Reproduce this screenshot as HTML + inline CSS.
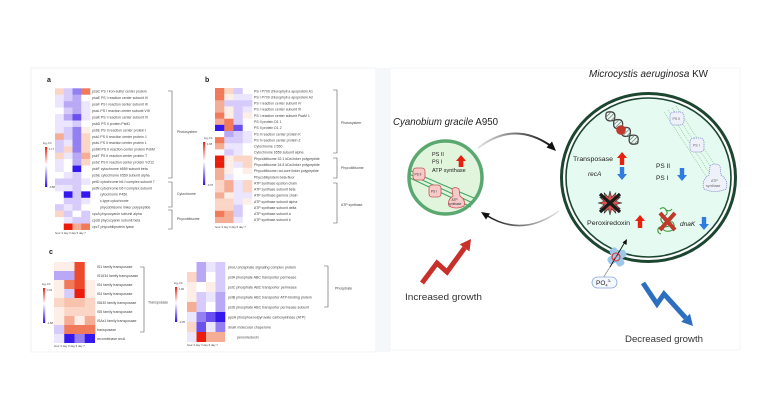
<!DOCTYPE html>
<html><head><meta charset="utf-8"><style>
html,body{margin:0;padding:0;background:#fff;}
svg{display:block;}
text{font-family:"Liberation Sans",sans-serif;}
</style></head><body>
<svg width="771" height="420" viewBox="0 0 771 420" xmlns="http://www.w3.org/2000/svg">
<defs>
<linearGradient id="cb" x1="0" y1="0" x2="0" y2="1">
<stop offset="0" stop-color="#ee2010"/><stop offset="0.45" stop-color="#ffffff"/><stop offset="1" stop-color="#3010ee"/>
</linearGradient>
<linearGradient id="arcT" x1="0" y1="0" x2="1" y2="0">
<stop offset="0" stop-color="#e6e6e6"/><stop offset="1" stop-color="#111"/>
</linearGradient>
<linearGradient id="arcB" x1="1" y1="0" x2="0" y2="0">
<stop offset="0" stop-color="#e6e6e6"/><stop offset="1" stop-color="#111"/>
</linearGradient>
</defs>
<rect width="771" height="420" fill="#fff"/>
<!-- panels -->
<rect x="31" y="68" width="345" height="284" fill="#fff" stroke="#eef1f6" stroke-width="1"/>
<rect x="376" y="68" width="14" height="284" fill="#f5f7fb"/>
<rect x="390" y="68" width="350" height="282" fill="#fff" stroke="#f1f3f7" stroke-width="0.8"/>

<!-- panel letters -->
<text x="47" y="82" font-size="7" font-weight="bold" fill="#222">a</text>
<text x="205" y="82" font-size="7" font-weight="bold" fill="#222">b</text>
<text x="49" y="254" font-size="7" font-weight="bold" fill="#222">c</text>

<!-- Heatmap a -->
<g transform="translate(55,88.3) scale(8.75,6.44)">
<rect x="0" y="0" width="1.03" height="1.03" fill="#fbd6c6"/><rect x="1" y="0" width="1.03" height="1.03" fill="#d6cbfa"/><rect x="2" y="0" width="1.03" height="1.03" fill="#9580f2"/><rect x="3" y="0" width="1.03" height="1.03" fill="#f07a5a"/>
<rect x="0" y="1" width="1.03" height="1.03" fill="#ebe6fd"/><rect x="1" y="1" width="1.03" height="1.03" fill="#d6cbfa"/><rect x="2" y="1" width="1.03" height="1.03" fill="#b8a8f6"/><rect x="3" y="1" width="1.03" height="1.03" fill="#ffffff"/>
<rect x="0" y="2" width="1.03" height="1.03" fill="#ebe6fd"/><rect x="1" y="2" width="1.03" height="1.03" fill="#b8a8f6"/><rect x="2" y="2" width="1.03" height="1.03" fill="#b8a8f6"/><rect x="3" y="2" width="1.03" height="1.03" fill="#ebe6fd"/>
<rect x="0" y="3" width="1.03" height="1.03" fill="#ffffff"/><rect x="1" y="3" width="1.03" height="1.03" fill="#d6cbfa"/><rect x="2" y="3" width="1.03" height="1.03" fill="#b8a8f6"/><rect x="3" y="3" width="1.03" height="1.03" fill="#ebe6fd"/>
<rect x="0" y="4" width="1.03" height="1.03" fill="#ebe6fd"/><rect x="1" y="4" width="1.03" height="1.03" fill="#b8a8f6"/><rect x="2" y="4" width="1.03" height="1.03" fill="#6a50ee"/><rect x="3" y="4" width="1.03" height="1.03" fill="#ebe6fd"/>
<rect x="0" y="5" width="1.03" height="1.03" fill="#ebe6fd"/><rect x="1" y="5" width="1.03" height="1.03" fill="#ebe6fd"/><rect x="2" y="5" width="1.03" height="1.03" fill="#d6cbfa"/><rect x="3" y="5" width="1.03" height="1.03" fill="#ffffff"/>
<rect x="0" y="6" width="1.03" height="1.03" fill="#ebe6fd"/><rect x="1" y="6" width="1.03" height="1.03" fill="#d6cbfa"/><rect x="2" y="6" width="1.03" height="1.03" fill="#9580f2"/><rect x="3" y="6" width="1.03" height="1.03" fill="#fdeee8"/>
<rect x="0" y="7" width="1.03" height="1.03" fill="#f6ad95"/><rect x="1" y="7" width="1.03" height="1.03" fill="#d6cbfa"/><rect x="2" y="7" width="1.03" height="1.03" fill="#9580f2"/><rect x="3" y="7" width="1.03" height="1.03" fill="#fbd6c6"/>
<rect x="0" y="8" width="1.03" height="1.03" fill="#d6cbfa"/><rect x="1" y="8" width="1.03" height="1.03" fill="#ebe6fd"/><rect x="2" y="8" width="1.03" height="1.03" fill="#9580f2"/><rect x="3" y="8" width="1.03" height="1.03" fill="#fbd6c6"/>
<rect x="0" y="9" width="1.03" height="1.03" fill="#d6cbfa"/><rect x="1" y="9" width="1.03" height="1.03" fill="#fbd6c6"/><rect x="2" y="9" width="1.03" height="1.03" fill="#9580f2"/><rect x="3" y="9" width="1.03" height="1.03" fill="#fbd6c6"/>
<rect x="0" y="10" width="1.03" height="1.03" fill="#fbd6c6"/><rect x="1" y="10" width="1.03" height="1.03" fill="#ebe6fd"/><rect x="2" y="10" width="1.03" height="1.03" fill="#b8a8f6"/><rect x="3" y="10" width="1.03" height="1.03" fill="#f6ad95"/>
<rect x="0" y="11" width="1.03" height="1.03" fill="#ebe6fd"/><rect x="1" y="11" width="1.03" height="1.03" fill="#ffffff"/><rect x="2" y="11" width="1.03" height="1.03" fill="#b8a8f6"/><rect x="3" y="11" width="1.03" height="1.03" fill="#fbd6c6"/>
<rect x="0" y="12" width="1.03" height="1.03" fill="#ebe6fd"/><rect x="1" y="12" width="1.03" height="1.03" fill="#ffffff"/><rect x="2" y="12" width="1.03" height="1.03" fill="#3418ee"/><rect x="3" y="12" width="1.03" height="1.03" fill="#ffffff"/>
<rect x="0" y="13" width="1.03" height="1.03" fill="#ffffff"/><rect x="1" y="13" width="1.03" height="1.03" fill="#ebe6fd"/><rect x="2" y="13" width="1.03" height="1.03" fill="#d6cbfa"/><rect x="3" y="13" width="1.03" height="1.03" fill="#ffffff"/>
<rect x="0" y="14" width="1.03" height="1.03" fill="#d6cbfa"/><rect x="1" y="14" width="1.03" height="1.03" fill="#d6cbfa"/><rect x="2" y="14" width="1.03" height="1.03" fill="#d6cbfa"/><rect x="3" y="14" width="1.03" height="1.03" fill="#ebe6fd"/>
<rect x="0" y="15" width="1.03" height="1.03" fill="#ebe6fd"/><rect x="1" y="15" width="1.03" height="1.03" fill="#ebe6fd"/><rect x="2" y="15" width="1.03" height="1.03" fill="#d6cbfa"/><rect x="3" y="15" width="1.03" height="1.03" fill="#ffffff"/>
<rect x="0" y="16" width="1.03" height="1.03" fill="#ffffff"/><rect x="1" y="16" width="1.03" height="1.03" fill="#3418ee"/><rect x="2" y="16" width="1.03" height="1.03" fill="#d6cbfa"/><rect x="3" y="16" width="1.03" height="1.03" fill="#3418ee"/>
<rect x="0" y="17" width="1.03" height="1.03" fill="#ffffff"/><rect x="1" y="17" width="1.03" height="1.03" fill="#d6cbfa"/><rect x="2" y="17" width="1.03" height="1.03" fill="#d6cbfa"/><rect x="3" y="17" width="1.03" height="1.03" fill="#ebe6fd"/>
<rect x="0" y="18" width="1.03" height="1.03" fill="#d6cbfa"/><rect x="1" y="18" width="1.03" height="1.03" fill="#ebe6fd"/><rect x="2" y="18" width="1.03" height="1.03" fill="#d6cbfa"/><rect x="3" y="18" width="1.03" height="1.03" fill="#ffffff"/>
<rect x="0" y="19" width="1.03" height="1.03" fill="#fbd6c6"/><rect x="1" y="19" width="1.03" height="1.03" fill="#d6cbfa"/><rect x="2" y="19" width="1.03" height="1.03" fill="#ffffff"/><rect x="3" y="19" width="1.03" height="1.03" fill="#d6cbfa"/>
<rect x="0" y="20" width="1.03" height="1.03" fill="#ffffff"/><rect x="1" y="20" width="1.03" height="1.03" fill="#ebe6fd"/><rect x="2" y="20" width="1.03" height="1.03" fill="#d6cbfa"/><rect x="3" y="20" width="1.03" height="1.03" fill="#d6cbfa"/>
<rect x="0" y="21" width="1.03" height="1" fill="#ffffff"/><rect x="1" y="21" width="1.03" height="1" fill="#ec1c0c"/><rect x="2" y="21" width="1.03" height="1" fill="#f6ad95"/><rect x="3" y="21" width="1" height="1" fill="#f07a5a"/>
</g>
<g font-size="3.5" fill="#444">
<text x="92" y="92.7">psaC PS I iron-sulfur center protein</text>
<text x="92" y="99.1">psaE PS I reaction center subunit IV</text>
<text x="92" y="105.6">psaF PS I reaction center subunit III</text>
<text x="92" y="112">psaL PS I reaction center subunit VIII</text>
<text x="92" y="118.5">psaK PS I reaction center subunit XI</text>
<text x="92" y="124.9">psbD PS II protein PsbD</text>
<text x="92" y="131.3">psbE PS II reaction center protein I</text>
<text x="92" y="137.8">psbJ PS II reaction center protein J</text>
<text x="92" y="144.2">psbL PS II reaction center protein L</text>
<text x="92" y="150.7">psbM PS II reaction center protein PsbM</text>
<text x="92" y="157.1">psbT PS II reaction center protein T</text>
<text x="92" y="163.5">psbZ PS II reaction center protein Ycf12</text>
<text x="92" y="170">psbF cytochrome b559 subunit beta</text>
<text x="92" y="176.4">psbE cytochrome b559 subunit alpha</text>
<text x="92" y="182.9">petD cytochrome b6-f complex subunit 7</text>
<text x="92" y="189.3">petN cytochrome b6-f complex subunit</text>
<text x="100" y="195.7">cytochrome P450</text>
<text x="100" y="202.2">c-type cytochrome</text>
<text x="100" y="208.6">phycobilisome linker polypeptide</text>
<text x="92" y="215.1">cpcA phycocyanin subunit alpha</text>
<text x="92" y="221.5">cpcB phycocyanin subunit beta</text>
<text x="92" y="227.9">cpcT phycobiliprotein lyase</text>
<text x="177" y="133">Photosystem</text>
<text x="177" y="195">Cytochrome</text>
<text x="177" y="220">Phycobilisome</text>
</g>
<g fill="none" stroke="#555" stroke-width="0.6">
<path d="M168,91 H172 V178 H168"/>
<path d="M168,182 H172 V207 H168"/>
<path d="M168,210 H172 V229 H168"/>
</g>
<text x="55" y="234" font-size="2.8" fill="#444">hour 3 day 3 day 5 day 7</text>
<rect x="45" y="147" width="2.2" height="40" fill="url(#cb)"/>
<g font-size="2.6" fill="#444"><text x="43" y="144">log₂ FC</text><text x="49" y="150">1.17</text><text x="49" y="188">-0.88</text></g>

<!-- Heatmap b -->
<g transform="translate(215,88) scale(9.25,6.14)">
<rect x="0" y="0" width="1.03" height="1.03" fill="#f07a5a"/><rect x="1" y="0" width="1.03" height="1.03" fill="#fbd6c6"/><rect x="2" y="0" width="1.03" height="1.03" fill="#d6cbfa"/><rect x="3" y="0" width="1.03" height="1.03" fill="#ffffff"/>
<rect x="0" y="1" width="1.03" height="1.03" fill="#f07a5a"/><rect x="1" y="1" width="1.03" height="1.03" fill="#fdeee8"/><rect x="2" y="1" width="1.03" height="1.03" fill="#ebe6fd"/><rect x="3" y="1" width="1.03" height="1.03" fill="#ebe6fd"/>
<rect x="0" y="2" width="1.03" height="1.03" fill="#f6ad95"/><rect x="1" y="2" width="1.03" height="1.03" fill="#d6cbfa"/><rect x="2" y="2" width="1.03" height="1.03" fill="#d6cbfa"/><rect x="3" y="2" width="1.03" height="1.03" fill="#d6cbfa"/>
<rect x="0" y="3" width="1.03" height="1.03" fill="#f6ad95"/><rect x="1" y="3" width="1.03" height="1.03" fill="#fdeee8"/><rect x="2" y="3" width="1.03" height="1.03" fill="#d6cbfa"/><rect x="3" y="3" width="1.03" height="1.03" fill="#ebe6fd"/>
<rect x="0" y="4" width="1.03" height="1.03" fill="#f07a5a"/><rect x="1" y="4" width="1.03" height="1.03" fill="#fdeee8"/><rect x="2" y="4" width="1.03" height="1.03" fill="#d6cbfa"/><rect x="3" y="4" width="1.03" height="1.03" fill="#fdeee8"/>
<rect x="0" y="5" width="1.03" height="1.03" fill="#f6ad95"/><rect x="1" y="5" width="1.03" height="1.03" fill="#f07a5a"/><rect x="2" y="5" width="1.03" height="1.03" fill="#d6cbfa"/><rect x="3" y="5" width="1.03" height="1.03" fill="#ffffff"/>
<rect x="0" y="6" width="1.03" height="1.03" fill="#3418ee"/><rect x="1" y="6" width="1.03" height="1.03" fill="#f07a5a"/><rect x="2" y="6" width="1.03" height="1.03" fill="#6a50ee"/><rect x="3" y="6" width="1.03" height="1.03" fill="#ffffff"/>
<rect x="0" y="7" width="1.03" height="1.03" fill="#ffffff"/><rect x="1" y="7" width="1.03" height="1.03" fill="#b8a8f6"/><rect x="2" y="7" width="1.03" height="1.03" fill="#d6cbfa"/><rect x="3" y="7" width="1.03" height="1.03" fill="#ebe6fd"/>
<rect x="0" y="8" width="1.03" height="1.03" fill="#f07a5a"/><rect x="1" y="8" width="1.03" height="1.03" fill="#d6cbfa"/><rect x="2" y="8" width="1.03" height="1.03" fill="#d6cbfa"/><rect x="3" y="8" width="1.03" height="1.03" fill="#ebe6fd"/>
<rect x="0" y="9" width="1.03" height="1.03" fill="#f6ad95"/><rect x="1" y="9" width="1.03" height="1.03" fill="#ebe6fd"/><rect x="2" y="9" width="1.03" height="1.03" fill="#ebe6fd"/><rect x="3" y="9" width="1.03" height="1.03" fill="#ffffff"/>
<rect x="0" y="10" width="1.03" height="1.03" fill="#ffffff"/><rect x="1" y="10" width="1.03" height="1.03" fill="#d6cbfa"/><rect x="2" y="10" width="1.03" height="1.03" fill="#ebe6fd"/><rect x="3" y="10" width="1.03" height="1.03" fill="#ffffff"/>
<rect x="0" y="11" width="1.03" height="1.03" fill="#ec1c0c"/><rect x="1" y="11" width="1.03" height="1.03" fill="#fdeee8"/><rect x="2" y="11" width="1.03" height="1.03" fill="#fbd6c6"/><rect x="3" y="11" width="1.03" height="1.03" fill="#fbd6c6"/>
<rect x="0" y="12" width="1.03" height="1.03" fill="#ec1c0c"/><rect x="1" y="12" width="1.03" height="1.03" fill="#fdeee8"/><rect x="2" y="12" width="1.03" height="1.03" fill="#ebe6fd"/><rect x="3" y="12" width="1.03" height="1.03" fill="#fbd6c6"/>
<rect x="0" y="13" width="1.03" height="1.03" fill="#f6ad95"/><rect x="1" y="13" width="1.03" height="1.03" fill="#fdeee8"/><rect x="2" y="13" width="1.03" height="1.03" fill="#ffffff"/><rect x="3" y="13" width="1.03" height="1.03" fill="#fdeee8"/>
<rect x="0" y="14" width="1.03" height="1.03" fill="#f6ad95"/><rect x="1" y="14" width="1.03" height="1.03" fill="#ebe6fd"/><rect x="2" y="14" width="1.03" height="1.03" fill="#ffffff"/><rect x="3" y="14" width="1.03" height="1.03" fill="#ffffff"/>
<rect x="0" y="15" width="1.03" height="1.03" fill="#fbd6c6"/><rect x="1" y="15" width="1.03" height="1.03" fill="#f6ad95"/><rect x="2" y="15" width="1.03" height="1.03" fill="#ebe6fd"/><rect x="3" y="15" width="1.03" height="1.03" fill="#fbd6c6"/>
<rect x="0" y="16" width="1.03" height="1.03" fill="#fbd6c6"/><rect x="1" y="16" width="1.03" height="1.03" fill="#f6ad95"/><rect x="2" y="16" width="1.03" height="1.03" fill="#ebe6fd"/><rect x="3" y="16" width="1.03" height="1.03" fill="#fbd6c6"/>
<rect x="0" y="17" width="1.03" height="1.03" fill="#f6ad95"/><rect x="1" y="17" width="1.03" height="1.03" fill="#fdeee8"/><rect x="2" y="17" width="1.03" height="1.03" fill="#ebe6fd"/><rect x="3" y="17" width="1.03" height="1.03" fill="#ebe6fd"/>
<rect x="0" y="18" width="1.03" height="1.03" fill="#fbd6c6"/><rect x="1" y="18" width="1.03" height="1.03" fill="#fbd6c6"/><rect x="2" y="18" width="1.03" height="1.03" fill="#ebe6fd"/><rect x="3" y="18" width="1.03" height="1.03" fill="#fdeee8"/>
<rect x="0" y="19" width="1.03" height="1.03" fill="#fbd6c6"/><rect x="1" y="19" width="1.03" height="1.03" fill="#fbd6c6"/><rect x="2" y="19" width="1.03" height="1.03" fill="#d6cbfa"/><rect x="3" y="19" width="1.03" height="1.03" fill="#ffffff"/>
<rect x="0" y="20" width="1.03" height="1.03" fill="#f07a5a"/><rect x="1" y="20" width="1.03" height="1.03" fill="#f6ad95"/><rect x="2" y="20" width="1.03" height="1.03" fill="#d6cbfa"/><rect x="3" y="20" width="1.03" height="1.03" fill="#ffffff"/>
<rect x="0" y="21" width="1.03" height="1" fill="#f6ad95"/><rect x="1" y="21" width="1.03" height="1" fill="#f6ad95"/><rect x="2" y="21" width="1.03" height="1" fill="#ebe6fd"/><rect x="3" y="21" width="1" height="1" fill="#ffffff"/>
</g>
<g font-size="3.5" fill="#444">
<text x="254" y="92.3">PS I P700 chlorophyll a apoprotein A1</text>
<text x="254" y="98.4">PS I P700 chlorophyll a apoprotein A2</text>
<text x="254" y="104.6">PS I reaction center subunit IV</text>
<text x="254" y="110.7">PS I reaction center subunit XI</text>
<text x="254" y="116.9">PS I reaction center subunit PsaM 1</text>
<text x="254" y="123">PS II protein D1 1</text>
<text x="254" y="129.1">PS II protein D1 2</text>
<text x="254" y="135.3">PS II reaction center protein K</text>
<text x="254" y="141.4">PS II reaction center protein Z</text>
<text x="254" y="147.6">Cytochrome c 550</text>
<text x="254" y="153.7">Cytochrome b559 subunit alpha</text>
<text x="254" y="159.8">Phycobilisome 32.1 kDa linker polypeptide</text>
<text x="254" y="166">Phycobilisome 34.8 kDa linker polypeptide</text>
<text x="254" y="172.1">Phycobilisome rod-core linker polypeptide</text>
<text x="254" y="178.3">Phycobiliprotein beta-fluor</text>
<text x="254" y="184.4">ATP synthase epsilon chain</text>
<text x="254" y="190.5">ATP synthase subunit beta</text>
<text x="254" y="196.7">ATP synthase gamma chain</text>
<text x="254" y="202.8">ATP synthase subunit alpha</text>
<text x="254" y="209">ATP synthase subunit delta</text>
<text x="254" y="215.1">ATP synthase subunit a</text>
<text x="254" y="221.2">ATP synthase subunit b</text>
<text x="341" y="124">Photosystem</text>
<text x="341" y="169">Phycobilisome</text>
<text x="341" y="206">ATP synthase</text>
</g>
<g fill="none" stroke="#555" stroke-width="0.6">
<path d="M333,90 H337 V153 H333"/>
<path d="M333,158 H337 V178 H333"/>
<path d="M333,183 H337 V223 H333"/>
</g>
<text x="215" y="228" font-size="2.8" fill="#444">hour 3 day 3 day 5 day 7</text>
<rect x="203" y="142" width="2.2" height="43" fill="url(#cb)"/>
<g font-size="2.6" fill="#444"><text x="204" y="139">log₂ FC</text><text x="207" y="145">1.68</text><text x="207" y="186">-0.78</text></g>

<!-- Heatmap c transposase -->
<g transform="translate(54,262) scale(10.25,9)">
<rect x="0" y="0" width="1.03" height="1.03" fill="#fdeee8"/><rect x="1" y="0" width="1.03" height="1.03" fill="#fdeee8"/><rect x="2" y="0" width="1.03" height="1.03" fill="#ee4a2c"/><rect x="3" y="0" width="1.03" height="1.03" fill="#ffffff"/>
<rect x="0" y="1" width="1.03" height="1.03" fill="#b8a8f6"/><rect x="1" y="1" width="1.03" height="1.03" fill="#b8a8f6"/><rect x="2" y="1" width="1.03" height="1.03" fill="#ee4a2c"/><rect x="3" y="1" width="1.03" height="1.03" fill="#ffffff"/>
<rect x="0" y="2" width="1.03" height="1.03" fill="#fdeee8"/><rect x="1" y="2" width="1.03" height="1.03" fill="#f07a5a"/><rect x="2" y="2" width="1.03" height="1.03" fill="#ee4a2c"/><rect x="3" y="2" width="1.03" height="1.03" fill="#fdeee8"/>
<rect x="0" y="3" width="1.03" height="1.03" fill="#fdeee8"/><rect x="1" y="3" width="1.03" height="1.03" fill="#d6cbfa"/><rect x="2" y="3" width="1.03" height="1.03" fill="#ec1c0c"/><rect x="3" y="3" width="1.03" height="1.03" fill="#fdeee8"/>
<rect x="0" y="4" width="1.03" height="1.03" fill="#fbd6c6"/><rect x="1" y="4" width="1.03" height="1.03" fill="#f8c2ac"/><rect x="2" y="4" width="1.03" height="1.03" fill="#f8c2ac"/><rect x="3" y="4" width="1.03" height="1.03" fill="#fbd6c6"/>
<rect x="0" y="5" width="1.03" height="1.03" fill="#fdeee8"/><rect x="1" y="5" width="1.03" height="1.03" fill="#fbd6c6"/><rect x="2" y="5" width="1.03" height="1.03" fill="#fbd6c6"/><rect x="3" y="5" width="1.03" height="1.03" fill="#fbd6c6"/>
<rect x="0" y="6" width="1.03" height="1.03" fill="#fdeee8"/><rect x="1" y="6" width="1.03" height="1.03" fill="#f6ad95"/><rect x="2" y="6" width="1.03" height="1.03" fill="#fdeee8"/><rect x="3" y="6" width="1.03" height="1.03" fill="#f6ad95"/>
<rect x="0" y="7" width="1.03" height="1.03" fill="#d6cbfa"/><rect x="1" y="7" width="1.03" height="1.03" fill="#f07a5a"/><rect x="2" y="7" width="1.03" height="1.03" fill="#f07a5a"/><rect x="3" y="7" width="1.03" height="1.03" fill="#f07a5a"/>
<rect x="0" y="8" width="1.03" height="1" fill="#ebe6fd"/><rect x="1" y="8" width="1.03" height="1" fill="#3418ee"/><rect x="2" y="8" width="1.03" height="1" fill="#9580f2"/><rect x="3" y="8" width="1" height="1" fill="#3418ee"/>
</g>
<g font-size="3.5" fill="#444">
<text x="97" y="267.8">IS1 family transposase</text>
<text x="97" y="276.8">IS1634 family transposase</text>
<text x="97" y="285.8">IS4 family transposase</text>
<text x="97" y="294.8">IS4 family transposase</text>
<text x="97" y="303.8">IS630 family transposase</text>
<text x="97" y="312.8">IS5 family transposase</text>
<text x="97" y="321.8">ISAs1 family transposase</text>
<text x="97" y="330.8">transposase</text>
<text x="97" y="339.8">recombinase recA</text>
<text x="148" y="303.5">Transposase</text>
</g>
<path d="M140,267 H144 V332 H140" fill="none" stroke="#555" stroke-width="0.6"/>
<text x="54" y="347" font-size="2.8" fill="#444">hour 3 day 3 day 5 day 7</text>
<rect x="43" y="288" width="2.2" height="35" fill="url(#cb)"/>
<g font-size="2.6" fill="#444"><text x="42" y="285">log₂ FC</text><text x="47" y="291">4.02</text><text x="47" y="324">-1.58</text></g>

<!-- Heatmap phosphate -->
<g transform="translate(187,262) scale(9.5,10)">
<rect x="0" y="0" width="1.03" height="1.03" fill="#ffffff"/><rect x="1" y="0" width="1.03" height="1.03" fill="#b8a8f6"/><rect x="2" y="0" width="1.03" height="1.03" fill="#ebe6fd"/><rect x="3" y="0" width="1.03" height="1.03" fill="#d6cbfa"/>
<rect x="0" y="1" width="1.03" height="1.03" fill="#fbd6c6"/><rect x="1" y="1" width="1.03" height="1.03" fill="#b8a8f6"/><rect x="2" y="1" width="1.03" height="1.03" fill="#ffffff"/><rect x="3" y="1" width="1.03" height="1.03" fill="#d6cbfa"/>
<rect x="0" y="2" width="1.03" height="1.03" fill="#fdeee8"/><rect x="1" y="2" width="1.03" height="1.03" fill="#ffffff"/><rect x="2" y="2" width="1.03" height="1.03" fill="#fdeee8"/><rect x="3" y="2" width="1.03" height="1.03" fill="#d6cbfa"/>
<rect x="0" y="3" width="1.03" height="1.03" fill="#fdeee8"/><rect x="1" y="3" width="1.03" height="1.03" fill="#d6cbfa"/><rect x="2" y="3" width="1.03" height="1.03" fill="#ebe6fd"/><rect x="3" y="3" width="1.03" height="1.03" fill="#b8a8f6"/>
<rect x="0" y="4" width="1.03" height="1.03" fill="#f6ad95"/><rect x="1" y="4" width="1.03" height="1.03" fill="#d6cbfa"/><rect x="2" y="4" width="1.03" height="1.03" fill="#ffffff"/><rect x="3" y="4" width="1.03" height="1.03" fill="#b8a8f6"/>
<rect x="0" y="5" width="1.03" height="1.03" fill="#ebe6fd"/><rect x="1" y="5" width="1.03" height="1.03" fill="#9580f2"/><rect x="2" y="5" width="1.03" height="1.03" fill="#6a50ee"/><rect x="3" y="5" width="1.03" height="1.03" fill="#3418ee"/>
<rect x="0" y="6" width="1.03" height="1.03" fill="#fbd6c6"/><rect x="1" y="6" width="1.03" height="1.03" fill="#6a50ee"/><rect x="2" y="6" width="1.03" height="1.03" fill="#ebe6fd"/><rect x="3" y="6" width="1.03" height="1.03" fill="#9580f2"/>
<rect x="0" y="7" width="1.03" height="1" fill="#ebe6fd"/><rect x="1" y="7" width="1.03" height="1" fill="#ec1c0c"/><rect x="2" y="7" width="1.03" height="1" fill="#f6ad95"/><rect x="3" y="7" width="1" height="1" fill="#f6ad95"/>
</g>
<g font-size="3.6" fill="#444">
<text x="228" y="268.3">phoU phosphate signaling complex protein</text>
<text x="228" y="278.3">pstA phosphate ABC transporter permease</text>
<text x="228" y="288.3">pstC phosphate ABC transporter permease</text>
<text x="228" y="298.3">pstB phosphate ABC transporter ATP-binding protein</text>
<text x="228" y="308.3">pstS phosphate ABC transporter permease subunit</text>
<text x="228" y="318.3">ppsA phosphoenolpyruvate carboxykinase (ATP)</text>
<text x="228" y="328.3">dnaK molecular chaperone</text>
<text x="237" y="338.3">peroxiredoxin</text>
<text x="335" y="289.5">Phosphate</text>
</g>
<path d="M324,266 H328 V307 H324" fill="none" stroke="#555" stroke-width="0.6"/>
<text x="187" y="346" font-size="2.8" fill="#444">hour 3 day 3 day 5 day 7</text>
<rect x="175" y="287" width="2.2" height="35" fill="url(#cb)"/>
<g font-size="2.6" fill="#444"><text x="174" y="284">log₂ FC</text><text x="179" y="290">1.80</text><text x="179" y="323">-0.35</text></g>

<!-- ===== Right diagram ===== -->
<text x="393" y="125" font-size="10.5" fill="#222" textLength="105" lengthAdjust="spacingAndGlyphs"><tspan font-style="italic">Cyanobium gracile</tspan> A950</text>
<text x="589" y="77" font-size="10.5" fill="#222" textLength="119" lengthAdjust="spacingAndGlyphs"><tspan font-style="italic">Microcystis aeruginosa</tspan> KW</text>

<!-- small cell -->
<circle cx="445.5" cy="177.5" r="36.5" fill="#e0f5dc" stroke="#5aa870" stroke-width="3.5"/>
<g fill="none" stroke="#46a566" stroke-width="1.2">
<path d="M409,170 Q440,184 474,198"/>
<path d="M409,174 Q440,188 473,203"/>
<path d="M410,178 Q440,192 471,207"/>
</g>
<g fill="#f7c9c9" stroke="#c85555" stroke-width="0.8">
<rect x="413" y="168" width="12" height="12" rx="3"/>
<rect x="429" y="185" width="12" height="12" rx="3"/>
<path d="M452,189 Q455,186 459,189 L460,196 Q466,200 464,206 Q456,210 449,206 Q447,200 453,196 Z"/>
</g>
<g font-size="3.2" fill="#333">
<text x="414.5" y="175.3">PS II</text>
<text x="431" y="192.3">PS I</text>
<text x="451.5" y="201">ATP</text>
<text x="448.5" y="205">synthase</text>
</g>
<g font-size="5.5" fill="#222">
<text x="432" y="156">PS II</text>
<text x="432" y="163.5">PS I</text>
<text x="432" y="172">ATP synthase</text>
</g>
<path d="M461,155 L466,161 L463.3,161 L463.3,167 L458.7,167 L458.7,161 L456,161 Z" fill="#e8210f"/>

<!-- arcs -->
<path d="M478,148 Q514,120 551,146" fill="none" stroke="url(#arcT)" stroke-width="2"/>
<path d="M556,151 L546.5,147.5 L552,141.5 Z" fill="#111"/>
<path d="M559,211 Q522,238 486,215" fill="none" stroke="url(#arcB)" stroke-width="1.6"/>
<path d="M481,212 L490,213.5 L486,219.5 Z" fill="#111"/>

<!-- red growth arrow -->
<polyline points="422,283 437,263 447,272 464.6,247.9" fill="none" stroke="#c8302a" stroke-width="5" stroke-linejoin="miter"/>
<polygon points="471,239 469.5,251.4 459.7,244.4" fill="#c8302a"/>
<text x="405" y="300" font-size="9.5" fill="#333" textLength="77" lengthAdjust="spacingAndGlyphs">Increased growth</text>

<!-- big cell -->
<ellipse cx="648.5" cy="177.5" rx="87" ry="84" fill="#fff" stroke="#1d4630" stroke-width="3"/>
<ellipse cx="648.5" cy="177.5" rx="82.5" ry="79.5" fill="#e5faf0" stroke="#1d4630" stroke-width="1.6"/>

<!-- DNA -->
<g transform="translate(622,128) rotate(45)" fill="none" stroke="#444" stroke-width="1.3">
<path d="M-22,0 C-18.3,-6.5 -14.7,-6.5 -11,0 C-7.3,6.5 -3.7,6.5 0,0 C3.7,-6.5 7.3,-6.5 11,0 C14.7,6.5 18.3,6.5 22,0"/>
<path d="M-22,0 C-18.3,6.5 -14.7,6.5 -11,0 C-7.3,-6.5 -3.7,-6.5 0,0 C3.7,6.5 7.3,6.5 11,0 C14.7,-6.5 18.3,-6.5 22,0"/>
<path d="M-19,-4 V4 M-16,-4.5 V4.5 M-13,-3 V3 M-8,-3.5 V3.5 M-5,-4.5 V4.5 M-2,-3 V3 M3,-3.5 V3.5 M6,-4.5 V4.5 M9,-3 V3 M14,-3.5 V3.5 M17,-4.5 V4.5 M20,-3 V3" stroke-width="0.7" stroke="#777"/>
</g>
<circle cx="621" cy="130" r="4.8" fill="#c0392b"/>

<!-- starburst -->
<polygon points="622,203 615.8,204.55 620.39,209 614.24,207.24 616,213.39 611.55,208.8 610,215 608.45,208.8 604,213.39 605.76,207.24 599.61,209 604.2,204.55 598,203 604.2,201.45 599.61,197 605.76,198.76 604,192.61 608.45,197.2 610,191 611.55,197.2 616,192.61 614.24,198.76 620.39,197 615.8,201.45" fill="#d9534f" stroke="#333" stroke-width="0.6"/>
<path d="M600,194 L620,212 M620,194 L600,212" stroke="#1a1a1a" stroke-width="3.2"/>

<!-- texts in big cell -->
<g font-size="6.5" fill="#222">
<text x="573" y="161" textLength="40" lengthAdjust="spacingAndGlyphs">Transposase</text>
<text x="588" y="176" font-style="italic">recA</text>
<text x="587" y="225" textLength="43" lengthAdjust="spacingAndGlyphs">Peroxiredoxin</text>
<text x="656" y="168">PS II</text>
<text x="656" y="180">PS I</text>
<text x="680" y="226" font-style="italic">dnaK</text>
</g>
<!-- up/down arrows -->
<g fill="#e8210f">
<path d="M622,152 L627,158 L624.2,158 L624.2,165 L619.8,165 L619.8,158 L617,158 Z"/>
<path d="M640,215 L645,221 L642.2,221 L642.2,228 L637.8,228 L637.8,221 L635,221 Z"/>
</g>
<g fill="#2f7de1">
<path d="M622,180 L627,174 L624.2,174 L624.2,167 L619.8,167 L619.8,174 L617,174 Z"/>
<path d="M682,181 L687,175 L684.2,175 L684.2,168 L679.8,168 L679.8,175 L677,175 Z"/>
<path d="M704,230 L709,224 L706.2,224 L706.2,217 L701.8,217 L701.8,224 L699,224 Z"/>
</g>

<!-- dotted membrane & complexes -->
<g fill="none" stroke="#7cc07c" stroke-width="0.6" stroke-dasharray="1,1">
<path d="M668,110 L718,186"/>
<path d="M672,108 L722,184"/>
<path d="M676,106 L726,182"/>
<path d="M664,112 L714,188"/>
</g>
<g fill="#eef0fa" stroke="#7d84c8" stroke-width="0.7" stroke-dasharray="1.2,0.8">
<rect x="670" y="112" width="14" height="13" rx="4"/>
<rect x="690" y="138" width="14" height="14" rx="4"/>
<path d="M710,166 Q715,162 720,166 L721,175 Q729,180 726,189 Q715,194 704,189 Q701,180 709,175 Z"/>
</g>
<g font-size="3.6" fill="#666">
<text x="672.5" y="120">PS II</text>
<text x="693" y="146.5">PS I</text>
<text x="711" y="182">ATP</text>
<text x="706" y="187">synthase</text>
</g>

<!-- dnaK protein -->
<path d="M660,209 q4,-3 6,1 q3,4 -2,6 q-5,2 -2,6 q3,4 7,1 q4,-3 5,2 q1,5 -4,6 q-5,1 -7,-2 q-3,-4 -5,0 q-1,4 3,5 M666,210 q4,2 6,-1 M662,225 q3,3 7,1" fill="none" stroke="#3a9a3a" stroke-width="1.1"/>
<path d="M660,213 L675,230 M675,213 L660,230" stroke="#c0392b" stroke-width="4"/>

<!-- transporter -->
<g transform="translate(617,257) rotate(-30)">
<rect x="-10" y="-4" width="20" height="8" rx="3" fill="#9cc8ec"/>
<rect x="-4" y="-10" width="8" height="20" rx="3" fill="#9cc8ec"/>
</g>
<path d="M603,278 L610,267" stroke="#888" stroke-width="0.7"/>
<path d="M610,267 L625,242" stroke="#111" stroke-width="0.9"/>
<path d="M627,239 L626.5,245 L622.5,242.5 Z" fill="#111"/>
<circle cx="616" cy="257" r="4" fill="none" stroke="#d33" stroke-width="1.1"/>
<path d="M613,260 L619,254" stroke="#d33" stroke-width="0.9"/>
<rect x="592" y="277" width="25" height="11" rx="5.5" fill="#f4f8ff" stroke="#8aa8e0" stroke-width="0.8"/>
<text x="596" y="285" font-size="6.5" fill="#222">PO<tspan font-size="4" dy="1.5">4</tspan><tspan font-size="4" dy="-4.5">3-</tspan></text>

<!-- blue decrease arrow -->
<polyline points="643,283 657,304 664,294 685.6,317.85" fill="none" stroke="#2c6fbf" stroke-width="5" stroke-linejoin="miter"/>
<polygon points="693,326 690,313.8 681.2,321.9" fill="#2c6fbf"/>
<text x="625" y="342" font-size="9.5" fill="#333" textLength="78" lengthAdjust="spacingAndGlyphs">Decreased growth</text>
</svg>
</body></html>
